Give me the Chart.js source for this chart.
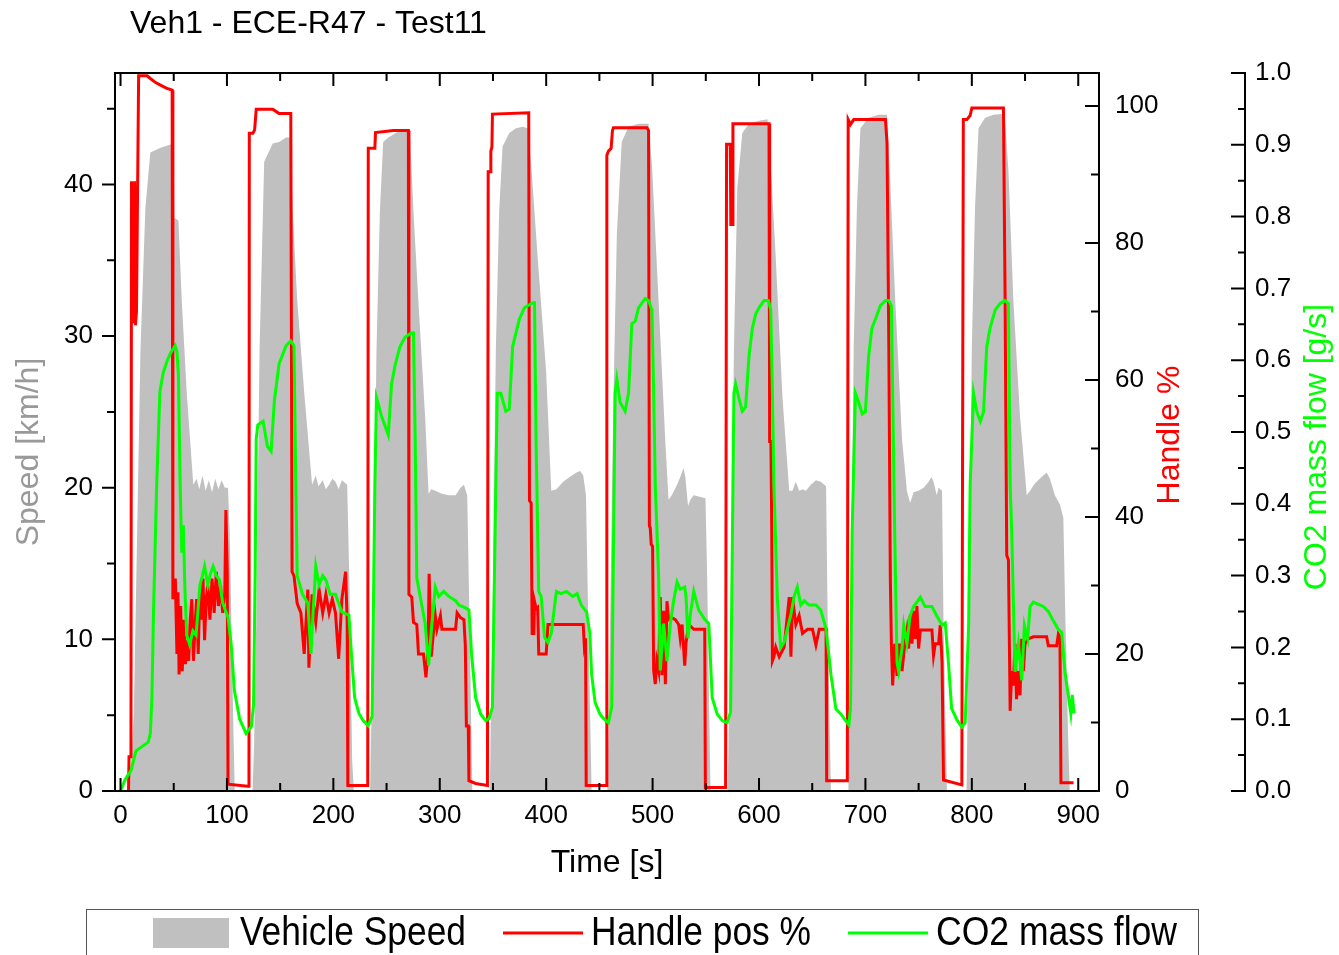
<!DOCTYPE html>
<html><head><meta charset="utf-8">
<script src="https://cdn.jsdelivr.net/npm/chart.js@4.4.1/dist/chart.umd.min.js"></script>
<style>html,body{margin:0;padding:0;background:#fff;}canvas{display:block;}</style>
</head><body>
<canvas id="c" width="1339" height="955"></canvas>
<script>
// ---- data: [time s, value] ----
const speedPoints = [
[0,0],[7,0],[10,2],[12.4,5],[15.6,17],[18.7,29],[23.3,38.4],[28,42.1],[37,42.4],[49.8,42.7],[50.7,37.8],[54.4,37.6],[57.5,32.4],[62.2,26.3],[68.4,20.2],[71.5,20.6],[74,19.9],[77,20.8],[80,19.8],[83,20.5],[86,19.7],[89,20.6],[92,19.9],[95,20.5],[98,20],[101,20],[102.6,17],[105.8,5],[107.3,0],
[124,0],[125.5,3],[127.5,11],[130.6,29],[135,41.5],[143,42.7],[149,42.8],[155.5,43.1],[160,43.1],[161.7,38.4],[166,32.4],[172.6,26.3],[180,20.2],[183.5,20.8],[186,20.1],[190,20.5],[193,19.9],[196,20.2],[199,20.6],[202,20.4],[205,19.9],[208,20.5],[213,20.2],[215,14],[217.7,2],[219.3,0],
[234.5,0],[237.4,11],[240.5,29],[243.7,38.2],[246.8,42.8],[251.6,43.1],[261,43.5],[269,43.5],[272,43.4],[275.3,38.2],[280,32.2],[286.3,24.6],[289.5,19.6],[292,19.9],[295.8,19.8],[302,19.6],[308.5,19.5],[314.8,19.5],[319.5,20],[322.7,20.2],[325.8,19.5],[328,11],[330.6,0],
[347,0],[349.5,11],[352.7,29.2],[355.8,38.2],[359,42.5],[365.3,43.4],[371.6,43.7],[378,43.8],[382.7,43.7],[385.9,41.3],[392,35.2],[400,27.6],[404.8,19.8],[409.6,19.9],[416,20.4],[422,20.7],[428.5,21],[432,21.1],[434.8,20.8],[437.4,19.5],[439.6,11],[442.7,0],
[457.5,0],[460,11],[463.2,26],[466.4,36.7],[471,42.8],[477.4,43.8],[486.8,44],[496.2,44],[499.4,41.3],[505.7,32.2],[512,23],[515,19.2],[518,19.5],[523,20.2],[526,20.7],[529,21.3],[530.8,20.7],[533.3,18.8],[535.5,19.2],[538.7,19.5],[549.7,19.3],[551.3,14],[554.4,0],
[570.5,0],[573.3,11],[576.4,29],[579.6,39.8],[584.3,43.4],[590.6,44],[600,44.2],[608,44.3],[611,41.3],[615.7,35.2],[622,26],[628.4,19.8],[631.4,19.8],[634.6,20.4],[637.7,19.8],[641,19.9],[644,19.8],[648.7,20.2],[653.5,20.5],[658,20.4],[663,20.1],[664.6,11],[667.6,0],
[684,0],[686,11],[689,29.3],[692,38.5],[695.3,43.7],[703,44.4],[712.5,44.6],[720.3,44.6],[723.4,40],[728,32.4],[734.4,23.2],[739,19.8],[742,19],[745.3,19.7],[750,19.8],[754.7,20],[759.4,20.4],[762,20.7],[764,20.4],[767,19.5],[768.8,20],[772,19.8],[773.4,11],[776.6,0],
[795,0],[797,11],[800,29.3],[803,38.5],[806.3,43.7],[812.5,44.4],[820.3,44.6],[828,44.65],[831.2,44.3],[834.4,40.9],[839,32.4],[845.3,24.7],[851.6,19.5],[854.7,19.8],[859.4,20.3],[865.6,20.7],[870.3,21],[873.4,20.6],[878,19.5],[882.8,18.9],[886,18],[888,11],[890.6,3.3],[892,0],[900,0]
];
const handlePoints = [
[7.5,0],[8,5],[9.8,5],[10.3,89],[11.5,68.5],[12.5,68.5],[13.2,89],[14,68],[15,70],[17,104.4],[25,104.4],[28,104],[33,103.4],[38,103],[43,102.6],[48.5,102.3],[49.2,28],[51.5,31],[53,20],[54,29],[55,17],[56.5,27],[58,17.5],[59.5,25],[61,18.5],[62.5,22],[64,19],[65.5,25],[67,28],[68.5,19],[70,24],[71.5,28],[73,20],[74.5,29],[76,25],[77.5,31],[79,22],[80.5,28],[82,30],[84,25],[86,31],[88,26],[90,32],[92,27],[94,30],[96,26],[98,29],[99,41],[100.3,32],[101,1],[119.5,0.7],[120.7,0.7],
[121,96],[124.4,96],[126,96.5],[127.5,99.5],[143,99.5],[146,99.2],[149,98.9],[160,98.9],[161.2,32],[163,31.4],[166,27.4],[169.5,26],[172.6,20],[176,29.4],[177,18],[180,28.7],[183.5,24.7],[186.6,29.4],[190,26],[193,28.7],[196,26],[199,28],[202,26],[205,19.3],[208,28],[211.5,32],[213,24.7],[213.6,0.8],[232.3,0.8],
[232.8,93.8],[239,93.8],[239.6,96.1],[256.3,96.4],[270.5,96.4],[271,28.7],[273.7,28.3],[275.3,24.6],[278.4,24.3],[280,20],[284.7,20],[287,16.6],[289,20.3],[290,31.7],[292,19.6],[294,23],[295.8,25.6],[297.4,23.6],[300.6,25.6],[302,23.6],[314.8,23.6],[316.3,26],[319.5,25.3],[322.7,25],[324,21.3],[325,9.5],[326.8,9.5],[327.4,1.5],[333.7,1.1],[344.8,0.8],
[345.5,90.4],[347.3,90.4],[348,93.4],[349,94],[349.5,98.8],[383.6,99],[384.3,42.4],[385.9,42],[386.8,23],[388.4,23],[389,27.7],[390.6,26.6],[392,26.8],[393,20],[400,20],[401.7,24.3],[434.8,24.3],[435.8,21.3],[437,22.3],[437.6,0.8],[456.5,0.8],
[457,92.8],[458.5,93.4],[461,93.8],[462.3,96.4],[463.2,96.8],[494.7,96.8],[496.2,96.4],[497,38.7],[497.8,38.4],[498.7,36],[500,35.7],[501,17.6],[502.5,15.6],[504,19],[505.7,17.6],[507.2,28.3],[508.8,16.9],[510.4,26.3],[512,15.6],[513.5,27.7],[515,25],[518,25.3],[521.4,25],[524.5,24.3],[526,22.3],[527.7,24.3],[530.2,18.3],[531.4,21.6],[534,24.3],[538.7,23.6],[549,23.6],[549.6,0.5],[568.6,0.5],
[569.5,94.4],[573,94.4],[573.5,82.7],[575,82.7],[575.5,97.4],[609.4,97.4],[610,51],[611.2,51],[612,37.7],[612.6,19],[614,19.6],[615.7,21],[619,19.6],[623.6,21],[628.4,28.3],[630,19.6],[631.4,28.3],[634.6,24.3],[637.7,25.6],[640.9,23],[645.6,23.6],[650.3,23.6],[653.5,21.3],[656.6,23.6],[663,23.6],[663.6,1.5],[683,1.5],
[683.8,98],[686,97.3],[689,98],[718.8,98],[720.3,94.6],[722,64.8],[723.4,31],[724.4,21.5],[725.6,15.4],[727.5,21.5],[729.7,16.8],[732,21.5],[734.4,17.5],[737,21.5],[739,23.5],[740.6,20.8],[742,25.6],[743.8,21.5],[745.3,26.3],[747,22.2],[748.4,27],[750,20.8],[751.6,23.5],[762.5,23.5],[764,19.8],[765.6,21.5],[768.8,21.5],[770.3,24.2],[772,18.8],[773.4,1.6],[790.6,0.9],
[792,98],[795.3,98],[798.4,98.6],[800,99.7],[829.7,99.7],[831.2,72.9],[832.8,34.4],[834.4,33.7],[836,11.7],[837.5,17.5],[839,15.4],[840.6,21.5],[842,13.4],[843.8,17.5],[845.3,14],[846.9,22.2],[848.4,17.5],[850,21.5],[853,22.2],[857.8,22.5],[870.3,22.5],[871.9,21.2],[879.7,21.2],[881.3,22.9],[882.8,22.5],[883.75,1.2],[895.6,1.2]
];
const co2Points = [
[0,0],[4,0.015],[10,0.029],[14.5,0.056],[26,0.068],[28,0.08],[29.5,0.13],[31,0.25],[34,0.428],[37,0.556],[40,0.582],[44,0.6],[47,0.61],[51.3,0.62],[53,0.612],[54.4,0.58],[56,0.428],[57.5,0.332],[59,0.37],[60.5,0.28],[62.2,0.217],[65,0.204],[68,0.223],[71,0.217],[74.6,0.287],[77,0.3],[79,0.313],[82,0.287],[84,0.3],[87,0.313],[90,0.3],[93,0.294],[96,0.262],[101,0.242],[104,0.204],[107,0.14],[112,0.1],[118,0.08],[123,0.09],
[125,0.12],[126.5,0.3],[127.5,0.49],[129,0.51],[134,0.515],[138,0.48],[141.5,0.473],[144.6,0.544],[149,0.595],[155.5,0.62],[160,0.627],[163,0.62],[164.5,0.45],[166,0.3],[171,0.274],[176,0.262],[179,0.191],[181,0.25],[183.5,0.313],[186.6,0.287],[190,0.3],[193,0.294],[197,0.274],[202,0.274],[208,0.249],[214.6,0.245],[217,0.19],[220,0.13],[224,0.108],[228,0.098],[232.6,0.091],
[236.4,0.104],[239,0.426],[240.5,0.548],[245.3,0.522],[251.6,0.496],[254.7,0.567],[258,0.593],[262.6,0.619],[267.4,0.632],[273,0.638],[275.3,0.638],[276.9,0.49],[278.4,0.297],[281.6,0.271],[286.3,0.233],[289.5,0.175],[292.6,0.233],[295.8,0.284],[299,0.271],[303.7,0.278],[308.5,0.271],[311.6,0.268],[314.8,0.265],[318,0.259],[324.2,0.255],[327.4,0.252],[330,0.188],[333.7,0.13],[338.5,0.107],[343.2,0.098],[346.4,0.101],
[349.5,0.117],[352,0.361],[354,0.554],[357.4,0.554],[362,0.529],[365.3,0.532],[368.5,0.619],[371.6,0.638],[374.8,0.657],[379.5,0.673],[387.4,0.68],[389,0.68],[390.6,0.477],[393,0.278],[395.3,0.271],[398.5,0.214],[401.7,0.207],[404.8,0.22],[409.6,0.278],[414,0.275],[419,0.278],[425,0.271],[429,0.275],[433,0.259],[438,0.249],[441,0.22],[442.7,0.162],[446,0.123],[450.6,0.107],[453.8,0.101],[458.5,0.095],
[461.6,0.117],[464.8,0.554],[466.4,0.574],[469.5,0.541],[474.2,0.529],[477.4,0.554],[480.5,0.651],[483.6,0.654],[486.8,0.673],[493,0.686],[496.2,0.683],[499.4,0.67],[501,0.554],[502.5,0.426],[505.7,0.297],[507.2,0.168],[510.4,0.233],[513.5,0.181],[516.7,0.233],[519.8,0.265],[523,0.291],[526,0.281],[530.2,0.284],[531.4,0.271],[533.3,0.213],[535.5,0.246],[538.7,0.278],[540.9,0.265],[543.4,0.252],[549,0.239],[552.8,0.233],[556,0.13],[560.7,0.107],[565.4,0.098],[570,0.095],
[573.3,0.11],[576.4,0.554],[578,0.567],[581,0.548],[584.3,0.529],[587.4,0.535],[590.6,0.606],[593.7,0.644],[596.8,0.664],[600,0.673],[604.7,0.683],[608.8,0.683],[611,0.67],[612.6,0.554],[614,0.426],[617.3,0.265],[620.4,0.2],[623.6,0.207],[626.7,0.226],[630,0.246],[633,0.271],[636,0.284],[639.3,0.259],[642.5,0.265],[647,0.259],[653.5,0.259],[658,0.252],[663,0.226],[667.6,0.162],[672.3,0.114],[677,0.107],[684.4,0.092],
[686,0.115],[687.5,0.36],[690.6,0.554],[693.8,0.541],[697,0.525],[700,0.528],[703,0.605],[706,0.644],[709.4,0.657],[714,0.676],[718.8,0.683],[722,0.683],[724.4,0.676],[725.6,0.554],[727.5,0.36],[729.7,0.179],[731.25,0.166],[734.4,0.199],[736,0.231],[739,0.205],[742,0.244],[745.3,0.257],[748.4,0.263],[751.6,0.27],[756,0.257],[762.5,0.257],[767,0.244],[772,0.231],[775,0.234],[778,0.179],[781,0.115],[786,0.099],[790.6,0.089],
[793.75,0.095],[797,0.231],[798.4,0.425],[801.6,0.554],[804.7,0.528],[808,0.515],[811,0.528],[814,0.618],[817,0.644],[822,0.67],[826.6,0.679],[831,0.683],[834.4,0.679],[836,0.425],[837.5,0.36],[840.6,0.166],[843.8,0.205],[846.9,0.154],[849.4,0.231],[852.5,0.212],[854.7,0.257],[857.8,0.263],[862.5,0.26],[867.2,0.257],[871.9,0.25],[876.6,0.237],[881.3,0.225],[884.4,0.221],[887.5,0.166],[890.6,0.134],[893,0.108],[894.4,0.134],[896,0.108]
];
// ---- tick labels ----
const timeTicks = [0,100,200,300,400,500,600,700,800,900];
const speedTicks = [0,10,20,30,40];
const handleTicks = [0,20,40,60,80,100];
const co2Ticks = [0,0.1,0.2,0.3,0.4,0.5,0.6,0.7,0.8,0.9,1.0];

const FONT = '"Liberation Sans", Arial, Helvetica, sans-serif';
const toXY = arr => arr.map(p => ({x:p[0], y:p[1]}));
const setTicks = vals => s => { s.ticks = vals.map(v => ({value:v})); };
const noGrid = {display:false, drawTicks:false, tickLength:0};

const decor = {
  id:'decor',
  afterDatasetsDraw(chart){
    const {ctx, chartArea:a, scales:{x,y,yH,yC}} = chart;
    ctx.save();
    ctx.strokeStyle = '#000'; ctx.lineWidth = 2;
    ctx.strokeRect(a.left, a.top, a.right-a.left, a.bottom-a.top);
    const cx = yC.left;
    ctx.beginPath();
    ctx.moveTo(cx, yC.getPixelForValue(1.0)-1); ctx.lineTo(cx, yC.getPixelForValue(0)+1);
    const tk = (x1,y1,x2,y2)=>{ctx.moveTo(x1,y1);ctx.lineTo(x2,y2);};
    for(let v=0; v<=900; v+=50){const px=x.getPixelForValue(v);const L=v%100===0?13:8;tk(px,a.bottom,px,a.bottom-L);tk(px,a.top,px,a.top+L);}
    for(let v=0; v<=45; v+=5){const py=y.getPixelForValue(v);const L=v%10===0?13:8;tk(a.left,py,a.left-L,py);}
    for(let v=0; v<=100; v+=10){const py=yH.getPixelForValue(v);const L=v%20===0?14:8;tk(a.right,py,a.right-L,py);}
    for(let i=0;i<=20;i++){const py=yC.getPixelForValue(i*0.05);const L=i%2===0?14:7;tk(cx,py,cx-L,py);}
    ctx.stroke();
    // titles
    ctx.fillStyle='#000'; ctx.font='32px '+FONT; ctx.textBaseline='middle'; ctx.textAlign='left';
    ctx.fillText('Veh1 - ECE-R47 - Test11', 130, 24);
    ctx.textAlign='center';
    ctx.fillText('Time [s]', (a.left+a.right)/2, 863);
    const vt=(t,px,py,c)=>{ctx.save();ctx.translate(px,py);ctx.rotate(-Math.PI/2);ctx.fillStyle=c;ctx.textAlign='center';ctx.textBaseline='middle';ctx.fillText(t,0,0);ctx.restore();};
    vt('Speed [km/h]', 29, 452, '#999999');
    vt('Handle %', 1170, 435, '#ff0000');
    vt('CO2 mass flow [g/s]', 1317, 447, '#00ff00');
    // legend
    ctx.lineWidth=1; ctx.strokeStyle='#555';
    ctx.strokeRect(86.5, 909.5, 1112, 60);
    ctx.fillStyle='#c0c0c0'; ctx.fillRect(153,918,76,30);
    ctx.lineWidth=3;
    ctx.strokeStyle='#ff0000'; ctx.beginPath(); ctx.moveTo(503,933); ctx.lineTo(583,933); ctx.stroke();
    ctx.strokeStyle='#00ff00'; ctx.beginPath(); ctx.moveTo(848,933); ctx.lineTo(928,933); ctx.stroke();
    const ct=(t,px,w)=>{ctx.save();ctx.font='40px '+FONT;const m=ctx.measureText(t).width;ctx.translate(px,934);ctx.scale(w/m,1);ctx.fillStyle='#000';ctx.textAlign='left';ctx.textBaseline='middle';ctx.fillText(t,0,0);ctx.restore();};
    ct('Vehicle Speed', 240, 226);
    ct('Handle pos %', 591, 220);
    ct('CO2 mass flow', 936, 241);
    ctx.restore();
  }
};

new Chart(document.getElementById('c'), {
  type:'line',
  data:{datasets:[
    {label:'Vehicle Speed', data:toXY(speedPoints), yAxisID:'y', fill:'origin', backgroundColor:'#c0c0c0', borderWidth:0, borderColor:'rgba(0,0,0,0)', pointRadius:0, tension:0, order:3},
    {label:'Handle pos %', data:toXY(handlePoints), yAxisID:'yH', fill:false, borderColor:'#ff0000', borderWidth:3, pointRadius:0, tension:0, order:2},
    {label:'CO2 mass flow', data:toXY(co2Points), yAxisID:'yC', fill:false, borderColor:'#00ff00', borderWidth:3, pointRadius:0, tension:0, order:1}
  ]},
  options:{
    responsive:false, animation:false, devicePixelRatio:1,
    layout:{padding:{top:73,left:0,right:0,bottom:0}},
    plugins:{legend:{display:false}, title:{display:false}, tooltip:{enabled:false}},
    scales:{
      x:{type:'linear', position:'bottom', min:-5.2, max:919.5,
         grid:noGrid, border:{display:false},
         ticks:{font:{size:26,family:FONT}, color:'#000', padding:9, maxRotation:0, autoSkip:false},
         afterBuildTicks:setTicks(timeTicks), afterFit:s=>{s.height=164;}},
      y:{type:'linear', position:'left', min:0, max:47.35,
         grid:noGrid, border:{display:false},
         ticks:{font:{size:26,family:FONT}, color:'#000', padding:22, autoSkip:false},
         afterBuildTicks:setTicks(speedTicks), afterFit:s=>{s.width=115;}},
      yH:{type:'linear', position:'right', weight:0, min:0, max:104.8,
         grid:noGrid, border:{display:false},
         ticks:{font:{size:26,family:FONT}, color:'#000', padding:16, autoSkip:false},
         afterBuildTicks:setTicks(handleTicks), afterFit:s=>{s.width=146;}},
      yC:{type:'linear', position:'right', weight:1, min:0, max:1.0,
         grid:noGrid, border:{display:false},
         ticks:{font:{size:26,family:FONT}, color:'#000', padding:10, autoSkip:false, callback:v=>v.toFixed(1)},
         afterBuildTicks:setTicks(co2Ticks), afterFit:s=>{s.width=94;}}
    }
  },
  plugins:[decor]
});
</script>
</body></html>
